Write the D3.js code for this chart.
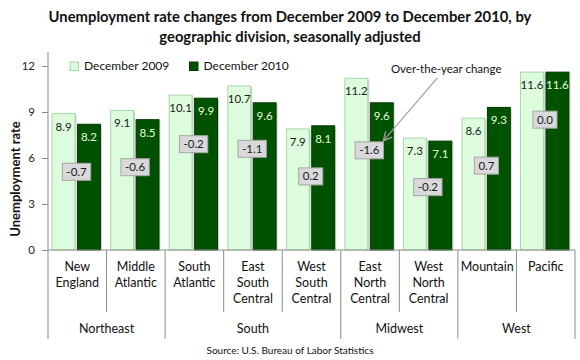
<!DOCTYPE html>
<html><head><meta charset="utf-8">
<script src="https://cdn.jsdelivr.net/npm/d3@7"></script>
<style>
body{margin:0;background:#fff;}
svg{display:block;font-family:Lato,"Open Sans",sans-serif;}
</style></head>
<body><svg id="c" width="580" height="360"></svg>
<script>
const titleLines = ["Unemployment rate changes from December 2009 to December 2010, by","geographic division, seasonally adjusted"];
const categories = ["New England","Middle Atlantic","South Atlantic","East South Central","West South Central","East North Central","West North Central","Mountain","Pacific"];
const regions = ["Northeast","Northeast","South","South","South","Midwest","Midwest","West","West"];
const seriesNames = ["December 2009","December 2010"];
const dec2009 = [8.9,9.1,10.1,10.7,7.9,11.2,7.3,8.6,11.6];
const dec2010 = [8.2,8.5,9.9,9.6,8.1,9.6,7.1,9.3,11.6];
const changes = ["-0.7","-0.6","-0.2","-1.1","0.2","-1.6","-0.2","0.7","0.0"];
const changeLabelAt = [5.1,5.4,6.9,6.6,4.8,6.5,4.1,5.5,8.5];
const yTicks = [0,3,6,9,12];
const yLabel = "Unemployment rate";
const annotation = "Over-the-year change";
const source = "Source: U.S. Bureau of Labor Statistics";

const svg = d3.select("#c");
const x0 = d3.scaleBand().domain(categories).range([48,575]).padding(0);
const bw = x0.bandwidth();
const x1 = d3.scaleBand().domain(seriesNames).range([bw*0.07, bw*0.895]).paddingInner(0.1);
const y = d3.scaleLinear().domain([0,12]).range([250,66]);
const fills = {"December 2009":"#ddfcdd","December 2010":"#005200"};
const strokes = {"December 2009":"#a9d6a9","December 2010":"#003800"};
const txtCol = {"December 2009":"#1a1a1a","December 2010":"#e6ffd9"};
const axisCol = "#8c8c8c";

// title
svg.append("g").selectAll("text").data(titleLines).join("text")
  .attr("x",290).attr("y",(d,i)=>17+i*20).attr("dy","0.35em")
  .attr("text-anchor","middle").attr("font-weight","bold").attr("font-size",14.8).attr("fill","#111")
  .text(d=>d);

// y axis
const yAxis = svg.append("g").attr("transform","translate(48,0)")
  .call(d3.axisLeft(y).tickValues(yTicks).tickSize(6).tickPadding(7).tickSizeOuter(0));
yAxis.select(".domain").remove();
yAxis.selectAll(".tick line").attr("stroke",axisCol);
yAxis.selectAll(".tick text").attr("font-family","Lato").attr("font-size",11.5).attr("fill","#222");
svg.append("line").attr("x1",48).attr("x2",48).attr("y1",52).attr("y2",250).attr("stroke",axisCol);

svg.append("text").attr("transform","translate(15,179) rotate(-90)")
  .attr("text-anchor","middle").attr("dy","0.35em").attr("font-weight","bold").attr("font-size",13).attr("fill","#111")
  .text(yLabel);

// bars
const series = [dec2009, dec2010];
const gBars = svg.append("g");
seriesNames.forEach((s,si)=>{
  const vals = series[si];
  const g = gBars.append("g");
  g.selectAll("rect.sh").data(vals).join("rect").attr("class","sh")
    .attr("x",(d,i)=>x0(categories[i])+x1(s)+1.5).attr("y",d=>y(d)+1)
    .attr("width",x1.bandwidth()).attr("height",d=>y(0)-y(d)-1)
    .attr("fill","#9a9a9a").attr("opacity",0.45);
  g.selectAll("rect.b").data(vals).join("rect").attr("class","b")
    .attr("x",(d,i)=>x0(categories[i])+x1(s)).attr("y",d=>y(d))
    .attr("width",x1.bandwidth()).attr("height",d=>y(0)-y(d))
    .attr("fill",fills[s]).attr("stroke",strokes[s]).attr("stroke-width",1);
  g.selectAll("text").data(vals).join("text")
    .attr("x",(d,i)=>x0(categories[i])+x1(s)+x1.bandwidth()/2).attr("y",d=>y(d)+13).attr("dy","0.35em")
    .attr("text-anchor","middle").attr("font-size",11.5).attr("fill",txtCol[s])
    .text(d=>d.toFixed(1));
});

// x axis line
svg.append("line").attr("x1",48).attr("x2",575).attr("y1",250).attr("y2",250).attr("stroke",axisCol);
// dividers
const bounds = d3.range(categories.length+1);
bounds.forEach(i=>{
  const xx = i<categories.length ? x0(categories[i]) : x0(categories[i-1])+bw;
  const isGroup = i===0 || i===categories.length || regions[i]!==regions[i-1];
  svg.append("line").attr("x1",xx).attr("x2",xx).attr("y1",250).attr("y2",isGroup?339:312).attr("stroke",axisCol);
});
// category labels
categories.forEach((c,i)=>{
  const lines = c.split(" ");
  svg.append("g").selectAll("text").data(lines).join("text")
    .attr("x",x0(c)+bw/2).attr("y",(d,j)=>267+j*16).attr("dy","0.35em")
    .attr("text-anchor","middle").attr("font-size",12.5).attr("fill","#111").text(d=>d);
});
// group labels
const groups = Array.from(new Set(regions));
groups.forEach(gname=>{
  const idx = regions.map((r,i)=>r===gname?i:-1).filter(i=>i>=0);
  const xa = x0(categories[idx[0]]), xb = x0(categories[idx[idx.length-1]])+bw;
  svg.append("text").attr("x",(xa+xb)/2).attr("y",329).attr("dy","0.35em")
    .attr("text-anchor","middle").attr("font-size",12.5).attr("fill","#111").text(gname);
});

// change boxes
const gc = svg.append("g");
changes.forEach((c,i)=>{
  const cx = x0(categories[i])+x1(seriesNames[1])-1, cy = y(changeLabelAt[i]);
  const t = gc.append("text").attr("x",cx).attr("y",cy).attr("dy","0.35em")
    .attr("text-anchor","middle").attr("font-size",11.5).attr("fill","#1a1a2a").text(c);
  const w = t.node().getComputedTextLength()+8;
  gc.insert("rect","text").attr("x",cx-w/2).attr("y",cy-8.5).attr("width",w).attr("height",17)
    .attr("fill","#d9d9d9").attr("stroke","#a6a6a6");
});

// legend
const lg = svg.append("g");
const legX = [70,189.5];
seriesNames.forEach((s,i)=>{
  lg.append("rect").attr("x",legX[i]).attr("y",62).attr("width",8.5).attr("height",8.5)
    .attr("fill",fills[s]).attr("stroke",strokes[s]);
  lg.append("text").attr("x",legX[i]+14).attr("y",66).attr("dy","0.35em")
    .attr("font-size",12).attr("fill","#111").text(s);
});

// annotation
svg.append("defs").append("marker").attr("id","arr").attr("viewBox","0 0 10 10")
  .attr("refX",9).attr("refY",5).attr("markerWidth",9).attr("markerHeight",9).attr("orient","auto")
  .append("path").attr("d","M1,1 L9,5 L1,9").attr("fill","none").attr("stroke","#a0a0a0").attr("stroke-width",1.2);
const ai = categories.indexOf("East North Central");
const annX = x0(categories[ai+1])+bw*0.8;
svg.append("text").attr("x",annX).attr("y",y(11.8)).attr("dy","0.35em").attr("text-anchor","middle")
  .attr("font-size",11.5).attr("fill","#111").text(annotation);
svg.append("line").attr("x1",annX-9).attr("y1",y(11.8)+9)
  .attr("x2",x0(categories[ai])+x1(seriesNames[1])+13).attr("y2",y(changeLabelAt[ai])-9.5)
  .attr("stroke","#a0a0a0").attr("stroke-width",1.2).attr("marker-end","url(#arr)");

// source
svg.append("text").attr("x",290).attr("y",350).attr("dy","0.35em").attr("text-anchor","middle")
  .attr("font-size",10).attr("fill","#111").text(source);
</script></body></html>
